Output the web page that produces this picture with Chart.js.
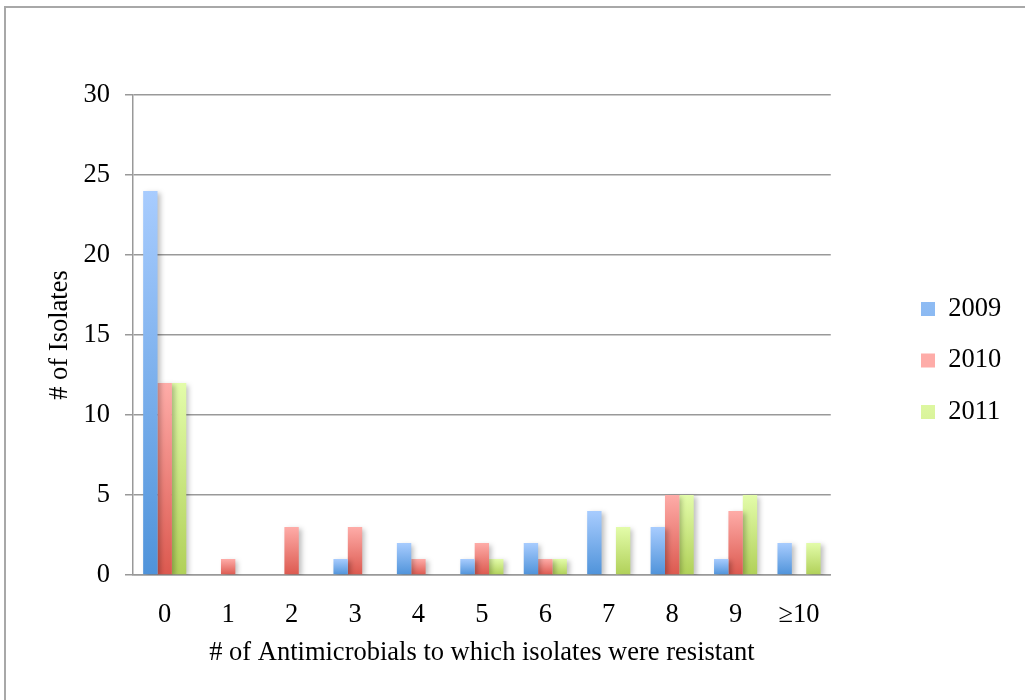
<!DOCTYPE html>
<html>
<head>
<meta charset="utf-8">
<script src="https://cdn.jsdelivr.net/npm/chart.js@4.4.0/dist/chart.umd.min.js"></script>
<style>
  body { margin: 0; background: #fff; overflow: hidden; }
  #frame { position: absolute; left: 4px; top: 6px; width: 1100px; height: 800px; border: 2px solid #a8a8a8; }
  #wrap { position: absolute; left: 0; top: 0; width: 1025px; height: 700px; }
</style>
</head>
<body>
<div id="frame"></div>
<div id="wrap"><canvas id="barChart"></canvas></div>
<script>
// categories (number of antimicrobials)
var categories = ['0', '1', '2', '3', '4', '5', '6', '7', '8', '9', '≥10'];

// isolates per year
var isolates2009 = [24, 0, 0, 1, 2, 1, 2, 4, 3, 1, 2];
var isolates2010 = [12, 1, 3, 3, 1, 2, 1, 0, 5, 4, 0];
var isolates2011 = [12, 0, 0, 0, 0, 1, 1, 3, 5, 5, 2];

var yTicks = [0, 5, 10, 15, 20, 25, 30];

// gradient colours for each series: [top, bottom, legend]
var blueShade = ['#a8ccfe', '#4f93da', '#79adee'];
var redShade = ['#feaca8', '#dc594f', '#ec8580'];
var greenShade = ['#e3fcaa', '#b0d058', '#cce585'];

var serif = 'Liberation Serif';
var fontSize = 26.5;

// vertical gradient for each bar, light on top, dark at the base
function barFill(shade) {
    return function(ctx) {
        if (ctx.type !== 'data') return shade[2];
        var y = ctx.chart.scales.y;
        if (!y) return shade[2];
        var top = y.getPixelForValue(ctx.raw);
        var base = y.getPixelForValue(0);
        if (!isFinite(top) || !isFinite(base) || top === base) return shade[2];
        var g = ctx.chart.ctx.createLinearGradient(0, top, 0, base);
        g.addColorStop(0, shade[0]);
        g.addColorStop(1, shade[1]);
        return g;
    };
}

// soft shadow to the right of the bars
var barShadow = {
    id: 'barShadow',
    beforeDatasetsDraw: function(chart) {
        var c = chart.ctx;
        c.save();
        c.shadowColor = 'rgba(0,0,0,0.25)';
        c.shadowBlur = 5;
        c.shadowOffsetX = 3;
        c.shadowOffsetY = 2;
    },
    afterDatasetsDraw: function(chart) {
        chart.ctx.restore();
    }
};

// move the legend to where it sits in the original
var legendPlace = {
    id: 'legendPlace',
    afterLayout: function(chart) {
        var lg = chart.legend;
        if (!lg) return;
        var dx = 921 - (lg.left + lg.options.labels.padding);
        lg.left += dx;
        lg.right += dx;
        lg.top -= 37;
        lg.bottom -= 37;
    }
};

var ctx = document.getElementById('barChart').getContext('2d');
var myChart = new Chart(ctx, {
    type: 'bar',
    data: {
        labels: categories,
        datasets: [
            { label: '2009', data: isolates2009, backgroundColor: barFill(blueShade), borderWidth: 0 },
            { label: '2010', data: isolates2010, backgroundColor: barFill(redShade), borderWidth: 0 },
            { label: '2011', data: isolates2011, backgroundColor: barFill(greenShade), borderWidth: 0 }
        ]
    },
    options: {
        responsive: true,
        maintainAspectRatio: false,
        animation: false,
        layout: { padding: { top: 95, right: 79, bottom: 0, left: 0 } },
        datasets: { bar: { categoryPercentage: 0.68, barPercentage: 1.0 } },
        plugins: {
            tooltip: { enabled: false },
            legend: {
                position: 'right',
                labels: {
                    boxWidth: 14,
                    boxHeight: 14,
                    padding: 25,
                    color: '#000',
                    font: { family: serif, size: fontSize }
                }
            }
        },
        scales: {
            x: {
                grid: { display: false },
                border: { display: true, color: '#999', width: 1.5 },
                ticks: { color: '#000', padding: 16, maxRotation: 0, font: { family: serif, size: fontSize } },
                title: {
                    display: true,
                    text: '# of Antimicrobials to which isolates were resistant',
                    color: '#000',
                    font: { family: serif, size: fontSize },
                    padding: { top: 0, bottom: 31 }
                },
                afterFit: function(s) { s.height = 125; }
            },
            y: {
                min: 0,
                max: 30,
                afterBuildTicks: function(s) { s.ticks = yTicks.map(function(v) { return { value: v }; }); },
                grid: { color: '#999', lineWidth: 1.5, tickLength: 8 },
                border: { display: true, color: '#999', width: 1.5 },
                ticks: { color: '#000', padding: 15, font: { family: serif, size: fontSize } },
                title: {
                    display: true,
                    text: '# of Isolates',
                    color: '#000',
                    font: { family: serif, size: fontSize },
                    padding: { top: 44, bottom: 0 }
                },
                afterFit: function(s) { s.width = 133; }
            }
        }
    },
    plugins: [barShadow, legendPlace]
});
</script>
</body>
</html>
